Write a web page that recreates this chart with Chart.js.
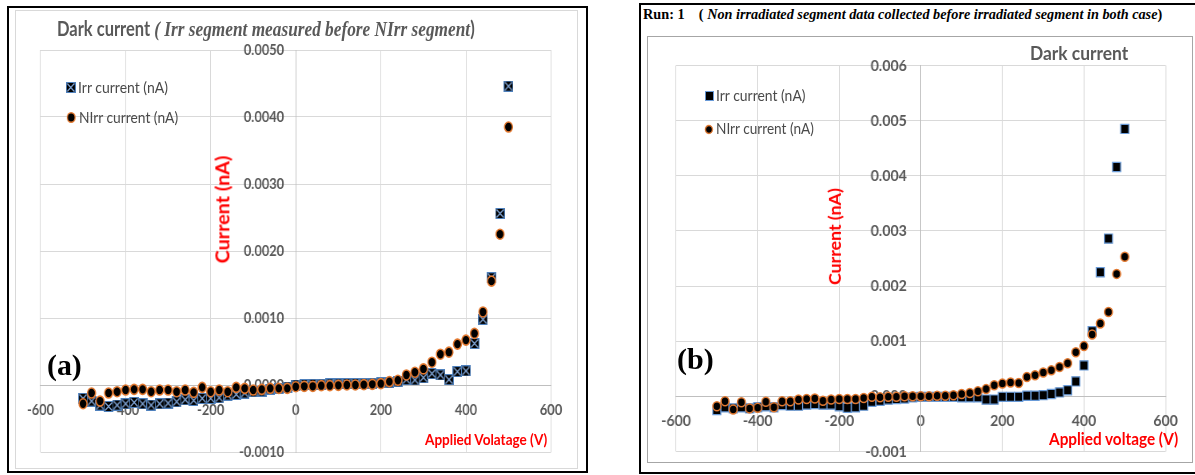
<!DOCTYPE html>
<html>
<head>
<meta charset="utf-8">
<script src="https://cdn.jsdelivr.net/npm/chart.js@4.4.1/dist/chart.umd.min.js"></script>
<style>
html, body { margin: 0; padding: 0; background: #fff; }
#page { position: relative; width: 1195px; height: 475px; overflow: hidden; background: #fff; }
.box { position: absolute; box-sizing: border-box; }
.txt { position: absolute; white-space: nowrap; line-height: 1; transform-origin: 0 50%; }
.chartCanvas { position: absolute; transform-origin: 0 0; }
.lato { font-family: Lato, 'Open Sans', sans-serif; }
.serif { font-family: 'Liberation Serif', 'DejaVu Serif', serif; }
.red { color: #ff0000; font-weight: bold; }
.gray { color: #595959; }
.leg { color: #4a4a4a; }
</style>
</head>
<body>
<div id="page">

  <!-- panel (a) frame -->
  <div class="box" style="left:7px;top:6px;width:581px;height:467px;border:2px solid #000;"></div>
  <div class="box" style="left:15px;top:10px;width:563px;height:459px;border:1px solid #d9d9d9;"></div>

  <!-- panel (b) frame -->
  <div class="box" style="left:639px;top:3px;width:2px;height:471px;background:#000;"></div>
  <div class="box" style="left:639px;top:3px;width:556px;height:2px;background:#000;"></div>
  <div class="box" style="left:639px;top:472px;width:556px;height:2px;background:#000;"></div>
  <div class="box" style="left:647px;top:36px;width:546px;height:427px;border:1px solid #a6a6a6;"></div>

  <canvas id="chartA" class="chartCanvas" width="703" height="458" style="left:15px;top:10px;"></canvas>
  <canvas id="chartB" class="chartCanvas" width="617" height="424" style="left:648px;top:37px;"></canvas>

  <!-- panel (a) texts -->
  <div class="txt gray" data-x="57" data-cy="28" data-w="418" style="font-size:21px;">
    <span class="lato" style="font-weight:bold;">Dark current </span><span class="serif" style="font-style:italic;font-weight:bold;font-size:22px;">( Irr segment measured before NIrr segment</span><span class="lato" style="font-weight:bold;">)</span>
  </div>
  <div class="txt lato red" data-rot="1" data-cx="222" data-cy="209" data-w="108" style="font-size:19px;">Current (nA)</div>
  <div class="txt lato red" data-x="425" data-cy="439" data-w="122" style="font-size:16px;">Applied Volatage (V)</div>
  <div class="txt lato leg" data-x="78" data-cy="87" data-w="90" style="font-size:16px;">Irr current (nA)</div>
  <div class="txt lato leg" data-x="79" data-cy="117" data-w="99" style="font-size:16px;">NIrr current (nA)</div>
  <div class="txt serif" data-x="47" data-cy="366" data-w="35" style="font-size:29px;font-weight:bold;color:#000;">(a)</div>

  <!-- panel (b) texts -->
  <div class="txt serif" data-x="643" data-cy="15" data-w="519" style="font-size:14px;font-weight:bold;color:#000;">Run: 1&nbsp;&nbsp;&nbsp; ( <i>Non irradiated segment data collected before irradiated segment in both case</i>)</div>
  <div class="txt lato gray" data-x="1030" data-cy="53" data-w="98" style="font-size:19px;font-weight:bold;">Dark current</div>
  <div class="txt lato red" data-rot="1" data-cx="834" data-cy="236" data-w="97" style="font-size:17px;">Current (nA)</div>
  <div class="txt lato red" data-x="1049" data-cy="439" data-w="129" style="font-size:17px;">Applied voltage (V)</div>
  <div class="txt lato leg" data-x="716" data-cy="96" data-w="90" style="font-size:15px;">Irr current (nA)</div>
  <div class="txt lato leg" data-x="716" data-cy="129" data-w="98" style="font-size:15px;">NIrr current (nA)</div>
  <div class="txt serif" data-x="677" data-cy="360" data-w="37" style="font-size:30px;font-weight:bold;color:#000;">(b)</div>
</div>

<script>
// applied voltage (V), panel (a)
const voltA = [-500, -480, -460, -440, -420, -400, -380, -360, -340, -320, -300, -280, -260, -240, -220, -200, -180, -160, -140, -120, -100, -80, -60, -40, -20,
  0, 20, 40, 60, 80, 100, 120, 140, 160, 180, 200, 220, 240, 260, 280, 300, 320, 340, 360, 380, 400, 420, 440, 460, 480, 500];
// Irr current (nA), panel (a)
const irrA = [-0.00020, -0.00024, -0.00030, -0.00032, -0.00030, -0.00028, -0.00026, -0.00028, -0.00030, -0.00028,
  -0.00027, -0.00025, -0.00022, -0.00023, -0.00020, -0.00020, -0.00019, -0.00015, -0.00014, -0.00012,
  -0.00010, -0.00009, -0.00006, -0.00005, -0.00003, 0.00000, 0.000005, 0.00001, 0.00001, 0.000015,
  0.000015, 0.00002, 0.00002, 0.00002, 0.000025, 0.00003, 0.000035, 0.00005, 0.00008, 0.000075,
  0.00011, 0.00017, 0.00015, 0.00008, 0.00020, 0.00021, 0.00062, 0.00098, 0.00160, 0.00256, 0.00446];
// NIrr current (nA), panel (a)
const nirrA = [-0.00028, -0.00012, -0.00024, -0.00012, -0.00010, -0.000075, -0.000065, -0.000065, -0.00010, -0.000075,
  -0.000075, -0.00010, -0.000075, -0.00011, -0.000035, -0.00010, -0.000075, -0.00010, -0.000035, -0.00005,
  -0.000075, -0.000065, -0.00005, -0.00005, -0.00005, -0.000025, -0.00002, -0.00002, -0.00001, -0.00001,
  -0.000005, 0.00000, 0.00000, 0.000005, 0.00001, 0.00002, 0.00005, 0.00007, 0.00015, 0.00019,
  0.00024, 0.00034, 0.00046, 0.00049, 0.00061, 0.00067, 0.00077, 0.00109, 0.00155, 0.00225, 0.00385];

// applied voltage (V), panel (b)
const voltB = [-500, -480, -460, -440, -420, -400, -380, -360, -340, -320, -300, -280, -260, -240, -220, -200, -180, -160, -140, -120, -100, -80, -60, -40, -20,
  0, 20, 40, 60, 80, 100, 120, 140, 160, 180, 200, 220, 240, 260, 280, 300, 320, 340, 360, 380, 400, 420, 440, 460, 480, 500];
const irrB = [-0.00025, -0.00020, -0.00022, -0.00020, -0.00022, -0.00020, -0.00018, -0.00020, -0.00016, -0.00017,
  -0.00017, -0.00015, -0.00014, -0.00015, -0.00015, -0.00018, -0.00021, -0.00020, -0.00017, -0.00010,
  -0.00008, -0.00006, -0.00005, -0.00004, -0.00002, -0.00001, -0.00001, -0.00001, -0.00001, -0.00001,
  -0.00002, -0.00002, -0.00002, -0.00006, -0.00006, -0.00001, -0.00001, -0.00001, 0.00001, 0.00001,
  0.00002, 0.00004, 0.00007, 0.00011, 0.00027, 0.00056, 0.00118, 0.00225, 0.00286, 0.00416, 0.00485];
const nirrB = [-0.00018, -0.00009, -0.00024, -0.00011, -0.00022, -0.00021, -0.00010, -0.00020, -0.00009, -0.00009,
  -0.00006, -0.00005, -0.00004, -0.00008, -0.00006, -0.00005, -0.00005, -0.00005, -0.00003, -0.00001,
  -0.00002, -0.00001, -0.00001, 0.00000, 0.00000, 0.00000, 0.00000, 0.00001, 0.00001, 0.00002,
  0.00004, 0.00006, 0.00009, 0.00013, 0.00020, 0.00023, 0.00025, 0.00024, 0.00035, 0.00038,
  0.00043, 0.00047, 0.00053, 0.00060, 0.00080, 0.00091, 0.00112, 0.00132, 0.00153, 0.00222, 0.00253];

// tick values
const xTicks = [-600, -400, -200, 0, 200, 400, 600];
const yTicksA = [-0.001, 0, 0.001, 0.002, 0.003, 0.004, 0.005];
const yTicksB = [-0.001, 0, 0.001, 0.002, 0.003, 0.004, 0.005, 0.006];

const SX_A = 562 / 703;   // panel (a) picture is squeezed sideways
const SX_B = 543 / 617;

function irrMarkerA() {
  const c = document.createElement('canvas');
  c.width = 12; c.height = 11;
  const g = c.getContext('2d');
  g.fillStyle = '#000';
  g.fillRect(0, 0, 12, 11);
  g.strokeStyle = '#4f81bd';
  g.lineWidth = 1;
  g.strokeRect(0.5, 0.5, 11, 10);
  g.strokeStyle = '#86acdf';
  g.lineWidth = 1.4;
  g.beginPath();
  g.moveTo(1.5, 1.5); g.lineTo(10.5, 9.5);
  g.moveTo(10.5, 1.5); g.lineTo(1.5, 9.5);
  g.stroke();
  return c;
}

function pts(xs, ys) {
  return xs.map((x, i) => ({x: x, y: ys[i]}));
}

function axisOpts(ticks, fmt, pad) {
  return {
    type: 'linear',
    min: ticks[0],
    max: ticks[ticks.length - 1],
    afterBuildTicks: s => { s.ticks = ticks.map(v => ({value: v})); },
    ticks: {
      autoSkip: false,
      maxRotation: 0,
      padding: pad,
      color: '#595959',
      font: {family: 'Lato', weight: 'bold', size: 16},
      callback: fmt
    },
    grid: {color: '#d9d9d9', lineWidth: 1, drawTicks: false},
    border: {color: '#bfbfbf', width: 1}
  };
}

function makeChart(id, datasets, yTicks, yDigits, yGap, padding) {
  const x = axisOpts(xTicks, v => String(v), 15);
  x.position = {y: 0};
  const y = axisOpts(yTicks, v => (Math.abs(v) < 1e-9 ? 0 : v).toFixed(yDigits) + yGap, 0);
  y.position = {x: 0};
  return new Chart(document.getElementById(id), {
    type: 'scatter',
    data: {datasets: datasets},
    options: {
      responsive: false,
      animation: false,
      events: [],
      layout: {padding: padding},
      plugins: {legend: {display: false}, tooltip: {enabled: false}},
      scales: {x: x, y: y}
    }
  });
}

const markA = irrMarkerA();

makeChart('chartA', [
  {label: 'NIrr current (nA)', data: pts(voltA, nirrA), order: 0,
   pointStyle: 'circle', pointRadius: 5, pointBorderWidth: 1.6,
   pointBackgroundColor: '#000', pointBorderColor: '#e2782f'},
  {label: 'Irr current (nA)', data: pts(voltA, irrA), order: 1,
   pointStyle: markA, pointRadius: 6}
], yTicksA, 4, '\u2003\u2006', {left: 30, right: 32.5, top: 40, bottom: 16});

makeChart('chartB', [
  {label: 'NIrr current (nA)', data: pts(voltB, nirrB), order: 0,
   pointStyle: 'circle', pointRadius: 4.5, pointBorderWidth: 1.5,
   pointBackgroundColor: '#000', pointBorderColor: '#e2782f'},
  {label: 'Irr current (nA)', data: pts(voltB, irrB), order: 1,
   pointStyle: 'rect', pointRadius: 6.5, pointBorderWidth: 1.2,
   pointBackgroundColor: '#000', pointBorderColor: '#6a9bd8'}
], yTicksB, 3, '\u2003\u2005', {left: 26.1, right: 27.6, top: 28.5, bottom: 9});

document.getElementById('chartA').style.transform = 'scaleX(' + SX_A + ')';
document.getElementById('chartB').style.transform = 'scaleX(' + SX_B + ')';

// legend markers
function legendMark(cx, cy, sx, draw, w, h) {
  const c = document.createElement('canvas');
  c.width = w; c.height = h;
  c.className = 'chartCanvas';
  c.style.left = (cx - w * sx / 2) + 'px';
  c.style.top = (cy - h / 2) + 'px';
  c.style.transform = 'scaleX(' + sx + ')';
  draw(c.getContext('2d'), w, h);
  document.getElementById('page').appendChild(c);
}
function circleMark(r, bw) {
  return (g, w, h) => {
    g.beginPath();
    g.arc(w / 2, h / 2, r, 0, Math.PI * 2);
    g.fillStyle = '#000';
    g.fill();
    g.lineWidth = bw;
    g.strokeStyle = '#e2782f';
    g.stroke();
  };
}
legendMark(71, 87, SX_A, g => g.drawImage(markA, 0, 0), 12, 11);
legendMark(71, 117, SX_A, circleMark(4.8, 1.5), 13, 13);
legendMark(709, 96, SX_B, g => {
  g.fillStyle = '#000'; g.fillRect(1, 1, 8, 8);
  g.strokeStyle = '#6a9bd8'; g.lineWidth = 1; g.strokeRect(0.5, 0.5, 9, 9);
}, 10, 10);
legendMark(709, 129, SX_B, circleMark(4, 1.4), 11, 11);

// place and fit the html texts
document.querySelectorAll('.txt').forEach(el => {
  const fs = parseFloat(getComputedStyle(el).fontSize);
  const w = el.offsetWidth;
  const k = (+el.dataset.w) / w;
  if (el.dataset.rot) {
    el.style.left = (+el.dataset.cx - w / 2) + 'px';
    el.style.top = (+el.dataset.cy - el.offsetHeight / 2) + 'px';
    el.style.transformOrigin = '50% 50%';
    el.style.transform = 'rotate(-90deg) scaleX(' + k + ')';
  } else {
    el.style.left = el.dataset.x + 'px';
    el.style.top = (+el.dataset.cy - fs * 0.53) + 'px';
    el.style.transform = 'scaleX(' + k + ')';
  }
});
</script>
</body>
</html>
